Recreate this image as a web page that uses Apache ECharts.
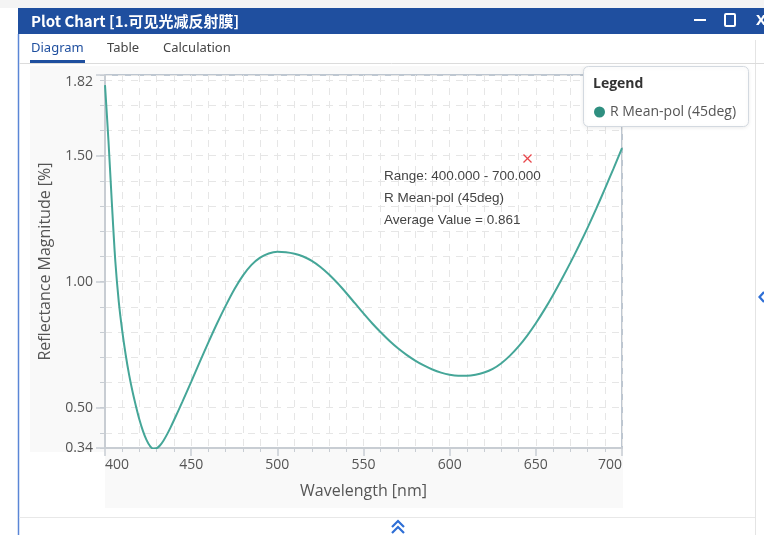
<!DOCTYPE html>
<html><head><meta charset="utf-8">
<script src="https://cdn.jsdelivr.net/npm/echarts@6/dist/echarts.min.js"></script>
<style>html,body{margin:0;padding:0;background:#fff;}#c{width:764px;height:535px;}</style>
</head><body><div id="c"></div>
<script>
const titleText = 'Plot Chart [1.可见光减反射膜]';
const tabLabels = ['Diagram', 'Table', 'Calculation'];
const seriesName = 'R Mean-pol (45deg)';
const legendTitle = 'Legend';
const xAxisName = 'Wavelength [nm]';
const yAxisName = 'Reflectance Magnitude [%]';
const annotationLines = ['Range: 400.000 - 700.000', 'R Mean-pol (45deg)', 'Average Value = 0.861'];

const wavelengths = [400, 402, 404, 406, 408, 410, 412, 414, 416, 418, 420, 422, 424, 426, 428, 430, 432, 434, 436, 438, 440, 445, 450, 455, 460, 465, 470, 475, 480, 485, 490, 495, 500, 505, 510, 515, 520, 525, 530, 535, 540, 545, 550, 555, 560, 565, 570, 575, 580, 585, 590, 595, 600, 605, 610, 615, 620, 625, 630, 635, 640, 645, 650, 655, 660, 665, 670, 675, 680, 685, 690, 695, 700];
const reflectance = [1.78, 1.56, 1.31, 1.08, 0.92, 0.805, 0.71, 0.63, 0.563, 0.505, 0.452, 0.408, 0.373, 0.349, 0.337, 0.339, 0.351, 0.37, 0.394, 0.421, 0.45, 0.525, 0.6025, 0.6815, 0.759, 0.834, 0.904, 0.969, 1.024, 1.0665, 1.0955, 1.112, 1.1185, 1.117, 1.111, 1.1, 1.0825, 1.0585, 1.0285, 0.9935, 0.955, 0.9145, 0.874, 0.835, 0.799, 0.7655, 0.7355, 0.7095, 0.687, 0.6675, 0.6515, 0.639, 0.6305, 0.6265, 0.6265, 0.6305, 0.6395, 0.654, 0.6765, 0.7065, 0.743, 0.786, 0.835, 0.889, 0.9475, 1.0095, 1.0745, 1.1425, 1.2135, 1.2885, 1.3675, 1.4475, 1.53];

const yLabelValues = [0.34, 0.5, 1.0, 1.5, 1.82];
const yTickValues = [0.34, 0.4, 0.5, 0.6, 0.7, 0.8, 0.9, 1.0, 1.1, 1.2, 1.3, 1.4, 1.5, 1.6, 1.7, 1.8, 1.82];
const xMin = 400, xMax = 700, xStep = 50;
const yMin = 0.34, yMax = 1.82;

const chart = echarts.init(document.getElementById('c'), null, {renderer: 'canvas'});
const axisGray = '#c8cdd3';
const gridDash = '#e6e6e6';
const lineColor = '#45a698';
const uiFont = 'Open Sans';

const graphics = [
  {type: 'rect', z: -20, shape: {x: 0, y: 0, width: 764, height: 8}, style: {fill: '#f4f4f4'}},
  {type: 'rect', z: -20, shape: {x: 30, y: 66, width: 593, height: 386}, style: {fill: '#f9f9f9'}},
  {type: 'rect', z: -20, shape: {x: 105, y: 450, width: 518, height: 58}, style: {fill: '#f9f9f9'}},
  {type: 'rect', shape: {x: 18, y: 8, width: 746, height: 26}, style: {fill: '#1f4f9f'}},
  {type: 'text', x: 31, y: 21, style: {text: titleText, fill: '#fff', font: 'bold 15px "Noto Sans CJK SC", "Noto Sans", sans-serif', verticalAlign: 'middle'}},
  {type: 'line', shape: {x1: 694, y1: 20, x2: 706, y2: 20}, style: {stroke: '#fff', lineWidth: 2}},
  {type: 'rect', shape: {x: 725, y: 14, width: 10, height: 12, r: 1}, style: {fill: 'none', stroke: '#fff', lineWidth: 2}},
  {type: 'text', x: 756, y: 21, style: {text: 'X', fill: '#fff', font: 'bold 15px "Noto Sans", sans-serif', verticalAlign: 'middle'}},
  {type: 'line', shape: {x1: 18.5, y1: 34, x2: 18.5, y2: 535}, style: {stroke: '#5b86d6', lineWidth: 1.5}},
  {type: 'line', shape: {x1: 755.5, y1: 40, x2: 755.5, y2: 535}, style: {stroke: '#e4e4e4', lineWidth: 1}},
  {type: 'line', shape: {x1: 19, y1: 63.5, x2: 764, y2: 63.5}, style: {stroke: '#dcdcdc', lineWidth: 1}},
  {type: 'text', x: 31, y: 48, style: {text: tabLabels[0], fill: '#1f4f9f', font: '13px "Noto Sans", sans-serif', verticalAlign: 'middle'}},
  {type: 'text', x: 107, y: 48, style: {text: tabLabels[1], fill: '#444', font: '13px "Noto Sans", sans-serif', verticalAlign: 'middle'}},
  {type: 'text', x: 163, y: 48, style: {text: tabLabels[2], fill: '#444', font: '13px "Noto Sans", sans-serif', verticalAlign: 'middle'}},
  {type: 'rect', shape: {x: 30, y: 60, width: 55, height: 3}, style: {fill: '#1f4f9f'}},
  {type: 'line', shape: {x1: 19, y1: 517.5, x2: 755, y2: 517.5}, style: {stroke: '#e8e8e8', lineWidth: 1}},
  {type: 'polyline', shape: {points: [[392, 527], [398, 521], [404, 527]]}, style: {stroke: '#2f6fd6', lineWidth: 2.2, fill: 'none'}},
  {type: 'polyline', shape: {points: [[392, 533], [398, 527], [404, 533]]}, style: {stroke: '#2f6fd6', lineWidth: 2.2, fill: 'none'}},
  {type: 'polyline', shape: {points: [[764, 292], [759.5, 297], [764, 302]]}, style: {stroke: '#2f6fd6', lineWidth: 2.2, fill: 'none'}},
  {type: 'rect', z: 5, shape: {x: 583.5, y: 66.5, width: 165, height: 60, r: 5}, style: {fill: '#fff', stroke: '#d3d9e0', lineWidth: 1, shadowBlur: 4, shadowColor: 'rgba(0,0,0,0.08)', shadowOffsetY: 1}},
  {type: 'text', z: 6, x: 593, y: 84, style: {text: legendTitle, fill: '#333', font: 'bold 14px "Open Sans", sans-serif', verticalAlign: 'middle'}},
  {type: 'line', z: 10, shape: {x1: 523.5, y1: 154.5, x2: 531.5, y2: 162.5}, style: {stroke: '#e8474b', lineWidth: 1.3}},
  {type: 'line', z: 10, shape: {x1: 531.5, y1: 154.5, x2: 523.5, y2: 162.5}, style: {stroke: '#e8474b', lineWidth: 1.3}}
];
annotationLines.forEach(function (t, i) {
  graphics.push({type: 'text', z: 10, x: 384, y: 176 + i * 22, style: {text: t, fill: '#444', font: '13.5px "Liberation Sans", Arial, sans-serif', verticalAlign: 'middle'}});
});

const option = {
  animation: false,
  backgroundColor: 'transparent',
  graphic: graphics,
  legend: {
    show: true, left: 589, top: 100, z: 8,
    icon: 'circle', itemWidth: 11, itemHeight: 11, itemGap: 4,
    data: [{name: seriesName, itemStyle: {color: '#2f8f80'}}],
    textStyle: {color: '#555', fontSize: 14, fontFamily: uiFont}
  },
  grid: {
    left: 105, right: 142, top: 75, bottom: 87,
    show: true, backgroundColor: '#fff', borderColor: '#a9b5c2', borderWidth: 1.5
  },
  xAxis: {
    type: 'value', min: xMin, max: xMax, interval: xStep,
    name: xAxisName, nameLocation: 'middle', nameGap: 35,
    nameTextStyle: {fontSize: 16, color: '#555', fontFamily: uiFont},
    axisLine: {show: true, onZero: false, lineStyle: {color: axisGray, width: 2}},
    axisTick: {show: true, length: 8, lineStyle: {color: axisGray, width: 1.5}},
    minorTick: {show: true, splitNumber: 5, length: 4, lineStyle: {color: axisGray, width: 1}},
    splitLine: {show: true, lineStyle: {color: gridDash, width: 1, type: [7, 6]}},
    minorSplitLine: {show: true, lineStyle: {color: gridDash, width: 1, type: [7, 6]}},
    axisLabel: {color: '#555', fontSize: 14, fontFamily: uiFont, margin: 10, alignMinLabel: 'left', alignMaxLabel: 'right'}
  },
  yAxis: [
    {
      type: 'value', min: yMin, max: yMax, position: 'left',
      name: yAxisName, nameLocation: 'middle', nameGap: 52,
      nameTextStyle: {fontSize: 16, color: '#555', fontFamily: uiFont},
      axisLine: {show: true, onZero: false, lineStyle: {color: axisGray, width: 2}},
      axisTick: {show: true, length: 9, customValues: yLabelValues, lineStyle: {color: axisGray, width: 1.5}},
      splitLine: {show: false},
      axisLabel: {
        customValues: yLabelValues, color: '#555', fontSize: 14, fontFamily: uiFont, margin: 12,
        verticalAlignMaxLabel: 'top',
        formatter: function (v) { return Number(v).toFixed(2); }
      }
    },
    {
      type: 'value', min: yMin, max: yMax, position: 'left',
      axisLine: {show: false, onZero: false},
      axisTick: {show: true, length: 5, customValues: yTickValues, lineStyle: {color: axisGray, width: 1}},
      axisLabel: {show: false},
      splitLine: {show: true, lineStyle: {color: gridDash, width: 1, type: [7, 6]}}
    }
  ],
  series: [{
    name: seriesName, type: 'line', yAxisIndex: 0,
    data: wavelengths.map(function (w, i) { return [w, reflectance[i]]; }),
    smooth: 0.3, showSymbol: false, symbol: 'none',
    lineStyle: {color: lineColor, width: 2},
    itemStyle: {color: lineColor},
    z: 3
  }]
};
chart.setOption(option);
</script></body></html>
